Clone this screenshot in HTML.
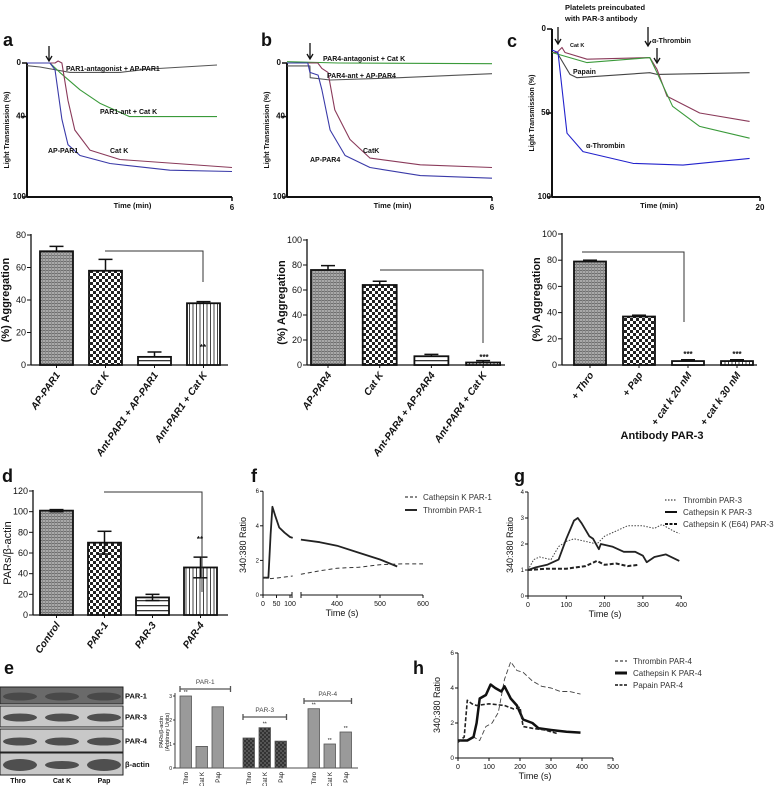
<!DOCTYPE html>
<html><head><meta charset="utf-8"><style>
html,body{margin:0;padding:0;background:#fff;}
svg{display:block;font-family:"Liberation Sans",sans-serif;}
</style></head><body>
<svg id="fig" width="779" height="786" viewBox="0 0 779 786" xmlns="http://www.w3.org/2000/svg">
<defs>
<pattern id="pDense" width="3" height="3" patternUnits="userSpaceOnUse"><rect width="3" height="3" fill="#a9a9a9"/><rect width="3" height="1" fill="#6f6f6f"/><rect x="0" width="1" height="3" fill="#8a8a8a"/></pattern>
<pattern id="pCheck" width="6" height="6" patternUnits="userSpaceOnUse"><rect width="6" height="6" fill="#fff"/><rect width="3" height="3" fill="#222"/><rect x="3" y="3" width="3" height="3" fill="#222"/></pattern>
<pattern id="pH" width="4" height="5" patternUnits="userSpaceOnUse"><rect width="4" height="5" fill="#fff"/><rect y="0" width="4" height="1.3" fill="#333"/></pattern>
<pattern id="pV" width="3.5" height="4" patternUnits="userSpaceOnUse"><rect width="3.5" height="4" fill="#fff"/><rect width="1" height="4" fill="#444"/></pattern>
<pattern id="pDark" width="4" height="4" patternUnits="userSpaceOnUse"><rect width="4" height="4" fill="#555"/><rect width="2" height="2" fill="#333"/><rect x="2" y="2" width="2" height="2" fill="#333"/></pattern>
<linearGradient id="blot" x1="0" y1="0" x2="0" y2="1"><stop offset="0" stop-color="#b5b5b5"/><stop offset="0.5" stop-color="#444"/><stop offset="1" stop-color="#aaa"/></linearGradient>
</defs>
</svg>
<script>
// ---------- data ----------
// panel a traces (time min, transmission %)
const aAntT=[0,0.38,1.26,2.72,3.6,5.56];
const aAntV=[2,3,7,7,4.5,1.5];
const aGrnT=[0,0.67,0.96,1.55,2.13,3.0,5.56];
const aGrnV=[0,0,7,20,30,40,40];
const aCatT=[0,0.82,0.91,1.02,1.2,1.4,1.84,2.72,6];
const aCatV=[0,0,-1.5,0,28,50,65,72,78];
const aApT=[0,0.67,0.82,1.02,1.2,1.55,2.43,4.18,6];
const aApV=[0,0,5,42,61,69,75,80,81];
// panel b traces
const bGrnT=[0,1.5,6];
const bGrnV=[-1,0,0.5];
const bAntT=[0,0.67,0.68,1.26,3.3,6];
const bAntV=[2.2,2.2,11,12.7,11,8];
const bCatT=[0,0.9,1.02,1.2,1.4,1.84,2.43,3.9,6];
const bCatV=[0,0,4,7,35,57,71,76,78];
const bApT=[0,0.61,0.67,0.91,1.02,1.26,1.7,2.43,3.9,6];
const bApV=[0,0,7,9,20,50,69,78,84,86];
// panel c traces
const cThrT=[0,0.58,1.44,2.98,7.8,12.6,19];
const cThrV=[12.5,14,62,73,80,81,77];
const cPapT=[0,0.48,1.73,2.4,9.4,10.1,19];
const cPapV=[14,14,27,29,26,27,26];
const cCatT=[0,0.48,0.96,1.25,3.37,9.4,10.1,11.06,14.2,19];
const cCatV=[14,14,11,14,18,17,24,40,50,55];
const cGrnT=[0,3.37,9.4,10.1,11.6,14.2,19];
const cGrnV=[14,20,17,26,46,58,65];
// bar charts
const aCats=["AP-PAR1","Cat K","Ant-PAR1 + AP-PAR1","Ant-PAR1 + Cat K"];
const aVals=[70,58,5,38];
const aErrs=[3,7,3,1];
const aTicks=[0,20,40,60,80];
const bCats=["AP-PAR4","Cat K","Ant-PAR4 + AP-PAR4","Ant-PAR4 + Cat K"];
const bVals=[76,64,7,2];
const bErrs=[3.5,3,1.5,1.5];
const bTicks=[0,20,40,60,80,100];
const cCats=["+ Thro","+ Pap","+ cat k 20 nM","+ cat k 30 nM"];
const cVals=[79,37,3,3];
const cErrs=[1,1,1,1];
const cTicks=[0,20,40,60,80,100];
const dCats=["Control","PAR-1","PAR-3","PAR-4"];
const dVals=[101,70,17,46];
const dErrs=[1,11,3,10];
const dTicks=[0,20,40,60,80,100,120];
// e bars
const eGroups=["PAR-1","PAR-3","PAR-4"];
const eLanes=["Thro","Cat K","Pap"];
const eVals=[[3.0,0.9,2.55],[1.25,1.68,1.12],[2.47,1.0,1.5]];
const eTicks=[0,1,2,3];
// f
const fThrT1=[0,20,28,35,45,60,80,100,110];
const fThrV1=[1.0,1.0,3.5,5.1,4.6,3.9,3.6,3.35,3.3];
const fThrT2=[316,360,400,450,500,540];
const fThrV2=[3.2,3.05,2.85,2.45,2.05,1.65];
const fCatT1=[0,30,60,110];
const fCatV1=[1.0,0.95,1.0,1.1];
const fCatT2=[316,360,400,450,500,550,600];
const fCatV2=[1.2,1.4,1.55,1.6,1.75,1.8,1.8];
const fTicks1=[0,50,100];
const fTicks2=[400,500,600];
const fYTicks=[0,2,4,6];
// g
const gThrT=[0,15,30,60,80,100,120,150,180,200,230,260,300,330,350,380,395];
const gThrV=[1,1.4,1.5,1.4,1.9,2.1,2.2,2.1,2.0,2.3,2.5,2.7,2.7,2.6,2.75,2.5,2.4];
const gCatT=[0,20,50,80,100,120,130,140,160,170,185,190,220,250,280,300,310,330,360,395];
const gCatV=[1,1.1,1.2,1.4,2.2,2.9,3.0,2.8,2.3,2.2,1.8,2.0,1.9,1.7,1.7,1.55,1.3,1.5,1.6,1.35];
const gE64T=[0,50,100,150,180,200,230,260,290];
const gE64V=[1,1.05,1.05,1.15,1.35,1.2,1.25,1.15,1.2];
const gXTicks=[0,100,200,300,400];
const gYTicks=[0,1,2,3,4];
// h
const hThrT=[0,30,50,70,90,110,130,150,170,190,210,240,270,300,330,360,395];
const hThrV=[1,1.0,1.2,1.0,1.8,2.0,2.6,4.5,5.5,5.0,4.9,4.4,4.1,4.0,3.8,3.8,3.65];
const hCatT=[0,30,50,60,70,90,105,120,140,150,170,190,210,240,260,300,350,395];
const hCatV=[1.0,1.0,1.2,2.0,3.4,3.6,4.2,4.0,3.8,4.1,3.4,3.0,2.2,2.0,1.7,1.6,1.5,1.45];
const hPapT=[0,20,30,45,60,100,150,180,200,210,240,280,320];
const hPapV=[0.9,1.2,3.3,3.1,3.0,3.1,3.0,2.8,2.9,1.8,1.7,1.6,1.4];
const hXTicks=[0,100,200,300,400,500];
const hYTicks=[0,2,4,6];

// ---------- helpers ----------
const svg=document.getElementById('fig');
const NS='http://www.w3.org/2000/svg';
function mk(tag,attrs,parent){const e=document.createElementNS(NS,tag);for(const k in attrs)e.setAttribute(k,attrs[k]);(parent||svg).appendChild(e);return e;}
function txt(s,x,y,size,opts){opts=opts||{};const e=mk('text',{x:x,y:y,'font-size':size,'font-weight':opts.w||'bold','text-anchor':opts.a||'start',fill:opts.fill||'#111'},opts.p);if(opts.it)e.setAttribute('font-style','italic');if(opts.rot!==undefined)e.setAttribute('transform','rotate('+opts.rot+' '+x+' '+y+')');e.textContent=s;return e;}
function ln(x1,y1,x2,y2,w,p){return mk('line',{x1:x1,y1:y1,x2:x2,y2:y2,stroke:'#111','stroke-width':w||1},p);}
function pathFrom(T,V,xf,yf,stroke,w,dash,p){let d='';for(let i=0;i<T.length;i++){d+=(i?'L':'M')+xf(T[i]).toFixed(1)+' '+yf(V[i]).toFixed(1);}const e=mk('path',{d:d,fill:'none',stroke:stroke,'stroke-width':w,'stroke-linejoin':'round'},p);if(dash)e.setAttribute('stroke-dasharray',dash);return e;}
function arrow(x,y1,y2,p){ln(x,y1,x,y2-1,1.3,p);const h=mk('path',{d:'M'+(x-3)+' '+(y2-5)+'L'+x+' '+y2+'L'+(x+3)+' '+(y2-5),fill:'none',stroke:'#111','stroke-width':1.3},p);return h;}
function group(name){const g=mk('g',{});return g;}

// ---------- kinetic trace panels ----------
function tracePanel(cfg){
  const g=group(cfg.name);
  const xf=t=>cfg.x0+t*(cfg.x1-cfg.x0)/cfg.tmax;
  const yf=v=>cfg.y0+v*(cfg.y1-cfg.y0)/100;
  const lab=txt(cfg.letter,cfg.lx,cfg.ly,18,{p:g});
  
  
  const ya=ln(cfg.x0,cfg.y0,cfg.x0,cfg.y1,2,g);
  
  
  const xa=ln(cfg.x0,cfg.y1,cfg.x1,cfg.y1,2,g);
  
  
  ln(cfg.x0-5,cfg.y0,cfg.x0,cfg.y0,1.5,g);ln(cfg.x0-5,yf(cfg.mid),cfg.x0,yf(cfg.mid),1.5,g);ln(cfg.x0-5,cfg.y1,cfg.x0,cfg.y1,1.5,g);
  ln(cfg.x1,cfg.y1,cfg.x1,cfg.y1+4,1.5,g);
  txt('0',cfg.x0-6,cfg.y0+2,8,{a:'end',p:g});
  txt(String(cfg.mid),cfg.x0-2,yf(cfg.mid)+2,8,{a:'end',p:g});
  txt('100',cfg.x0-1,cfg.y1+2,8,{a:'end',p:g});
  txt(String(cfg.tmax),cfg.x1,cfg.y1+13,8,{a:'middle',p:g});
  const xt=txt('Time (min)',(cfg.x0+cfg.x1)/2+3,cfg.y1+11,7.5,{a:'middle',p:g});
  
  
  const yt=txt('Light Transmission (%)',cfg.x0-18,(cfg.y0+cfg.y1)/2,7,{a:'middle',rot:-90,p:g});
  
  
  cfg.series.forEach(s=>{const p=pathFrom(s.t,s.v,xf,yf,s.c,1.1,null,g);
    
    });
  cfg.labels.forEach(l=>{const t=txt(l[0],l[1],l[2],l[3]||7,{p:g});
    
    });
  cfg.arrows.forEach(a=>{const ar=arrow(a[0],a[1],a[2],g);
    
    });
}
tracePanel({name:'panel-a-traces',letter:'a',lx:3,ly:46,x0:27,x1:232,y0:63,y1:197,tmax:6,mid:40,
  series:[{t:aAntT,v:aAntV,c:'#555',n:'par1-antagonist'},{t:aGrnT,v:aGrnV,c:'#3a9a3a',n:'par1-ant-catk'},{t:aCatT,v:aCatV,c:'#8a3a5a',n:'catk'},{t:aApT,v:aApV,c:'#3a3aa8',n:'ap-par1'}],
  labels:[['PAR1-antagonist + AP-PAR1',66,71],['PAR1-ant + Cat K',100,114],['AP-PAR1',48,153],['Cat K',110,153]],
  arrows:[[49,46,61]]});
tracePanel({name:'panel-b-traces',letter:'b',lx:261,ly:46,x0:287,x1:492,y0:63,y1:197,tmax:6,mid:40,
  series:[{t:bGrnT,v:bGrnV,c:'#3a9a3a',n:'par4-antagonist-catk'},{t:bAntT,v:bAntV,c:'#555',n:'par4-ant-ap-par4'},{t:bCatT,v:bCatV,c:'#8a3a5a',n:'catk'},{t:bApT,v:bApV,c:'#3a3aa8',n:'ap-par4'}],
  labels:[['PAR4-antagonist + Cat K',323,61],['PAR4-ant + AP-PAR4',327,78],['AP-PAR4',310,162],['CatK',363,153]],
  arrows:[[310,43,59]]});
tracePanel({name:'panel-c-traces',letter:'c',lx:507,ly:47,x0:552,x1:760,y0:29,y1:197,tmax:20,mid:50,
  series:[{t:cPapT,v:cPapV,c:'#444',n:'papain'},{t:cCatT,v:cCatV,c:'#8a3a5a',n:'catk'},{t:cGrnT,v:cGrnV,c:'#3a9a3a',n:'green'},{t:cThrT,v:cThrV,c:'#2222cc',n:'alpha-thrombin'}],
  labels:[['Cat K',570,47,5.5],['Papain',573,74],['α-Thrombin',652,43],['α-Thrombin',586,148]],
  arrows:[[558,27,44],[648,27,46],[657,48,63]]});
{const t=txt('Platelets preincubated',565,10,7.5);


const t2=txt('with  PAR-3 antibody',565,21,7.5);

}

// ---------- bar charts ----------
const pats=['url(#pDense)','url(#pCheck)','url(#pH)','url(#pV)'];
function barChart(cfg){
  const g=group(cfg.name);
  const yf=v=>cfg.y0-v*(cfg.y0-cfg.yTop)/cfg.vmax;
  const ya=ln(cfg.ax,yf(cfg.ticks[cfg.ticks.length-1])-1,cfg.ax,cfg.y0,1.3,g);
  
  
  const xa=ln(cfg.ax,cfg.y0,cfg.xEnd,cfg.y0,1.3,g);
  
  
  cfg.ticks.forEach(v=>{ln(cfg.ax-4,yf(v),cfg.ax,yf(v),1,g);
    const t=txt(String(v),cfg.ax-5,yf(v)+3,9,{a:'end',w:'normal',p:g});
    
    });
  const yt=txt(cfg.ytitle,cfg.ax-22,(cfg.y0+cfg.yTop)/2,11,{a:'middle',rot:-90,p:g,w:cfg.ytw||'bold'});
  
  
  cfg.cats.forEach((c,i)=>{
    const x=cfg.start+i*cfg.step, v=cfg.vals[i], e=cfg.errs[i], cx=x+cfg.w/2;
    const r=mk('rect',{x:x,y:yf(v),width:cfg.w,height:cfg.y0-yf(v),fill:pats[i],stroke:'#111','stroke-width':1.8},g);
    
    
    ln(cx,yf(v),cx,yf(v+e),1.5,g);ln(cx-7,yf(v+e),cx+7,yf(v+e),1.5,g);
    if(cfg.lowerErr){ln(cx,yf(v),cx,yf(v-e),1.5,g);ln(cx-7,yf(v-e),cx+7,yf(v-e),1.5,g);}
    ln(cx,cfg.y0,cx,cfg.y0+3,1,g);
    const t=txt(c,cx+4,cfg.y0+10,10,{a:'end',rot:-55,it:true,p:g});
    
    
  });
  const b=cfg.bracket;
  const bl=mk('path',{d:'M'+b[0]+' '+b[2]+'L'+b[1]+' '+b[2]+'L'+b[1]+' '+b[3],fill:'none',stroke:'#333','stroke-width':1},g);
  
  
  cfg.stars.forEach(s=>{const t=txt(s[0],s[1],s[2],8,{a:'middle',p:g});
    
    });
}
barChart({name:'panel-a-bars',ax:31,xEnd:228,y0:365,yTop:235,vmax:80,ticks:aTicks,cats:aCats,vals:aVals,errs:aErrs,start:40,step:49,w:33,ytitle:'(%) Aggregation',bracket:[105,203,251,282],stars:[['**',203,350]]});
barChart({name:'panel-b-bars',ax:307,xEnd:505,y0:365,yTop:240,vmax:100,ticks:bTicks,cats:bCats,vals:bVals,errs:bErrs,start:311,step:51.7,w:34,ytitle:'(%) Aggregation',bracket:[380,483,270,343],stars:[['***',484,360]]});
barChart({name:'panel-c-bars',ax:562,xEnd:757,y0:365,yTop:234,vmax:100,ticks:cTicks,cats:cCats,vals:cVals,errs:cErrs,start:574,step:49,w:32,ytitle:'(%) Aggregation',bracket:[582,684,252,322],stars:[['***',688,357],['***',737,357]]});
{const t=txt('Antibody PAR-3',662,439,11,{a:'middle'});

}
barChart({name:'panel-d-bars',ax:33,xEnd:228,y0:615,yTop:491,vmax:120,ticks:dTicks,cats:dCats,vals:dVals,errs:dErrs,lowerErr:true,start:40,step:48,w:33,ytitle:'PARs/β-actin',ytw:'normal',bracket:[104,202,492,592],stars:[['**',200,542]]});
{const t=txt('d',2,482,18);

}

// ---------- panel e ----------
{
const g=group('panel-e');
const L=txt('e',4,674,18,{p:g});


const rows=[['PAR-1',687,17],['PAR-3',706,21],['PAR-4',729,23],['β-actin',753,22]];
rows.forEach(r=>{
  const bg=mk('rect',{x:0,y:r[1],width:123,height:r[2],fill:r[0]==='PAR-1'?'#6a6a6a':'#c8c8c8',stroke:'#222','stroke-width':1},g);
  
  
  [20,62,104].forEach((cx,i)=>{const band=mk('ellipse',{cx:cx,cy:r[1]+r[2]/2+1,rx:17,ry:r[0]==='β-actin'?(i===1?4:6):4,fill:r[0]==='PAR-1'?'#333':'#3a3a3a',opacity:r[0]==='PAR-1'?0.6:0.85},g);
    
    });
  const t=txt(r[0],125,r[1]+r[2]/2+3,7.5,{p:g});
  
  
});
[['Thro',18],['Cat K',62],['Pap',104]].forEach(l=>{const t=txt(l[0],l[1],783,7,{a:'middle',p:g});
  
  });
const ax=175,y0=768,yTop=696;
const yf=v=>y0-v*(y0-yTop)/3;
const ya=ln(ax,yTop-3,ax,y0,0.8,g);


const xa=ln(ax,y0,358,y0,0.8,g);


eTicks.forEach(v=>{ln(ax-2,yf(v),ax,yf(v),0.8,g);
  const t=txt(String(v),ax-3,yf(v)+2,5,{a:'end',w:'normal',p:g});
  
  });
const yt=txt('PARs/β-actin',ax-12,732,5.5,{a:'middle',rot:-90,w:'normal',p:g});


const yt2=txt('(Arbitrary Units)',ax-6,732,5.5,{a:'middle',rot:-90,w:'normal',p:g});


const gStart=[180,243,308], bw=11.5, bstep=16;
const bracketY=[689,717,701];
eGroups.forEach((gn,gi)=>{
  eLanes.forEach((ln_,li)=>{
    const x=gStart[gi]+li*bstep, v=eVals[gi][li];
    const r=mk('rect',{x:x,y:yf(v),width:bw,height:y0-yf(v),fill:gi===1?'url(#pDark)':'#9a9a9a',stroke:'#555','stroke-width':0.8},g);
    
    
    const t=txt(ln_,x+bw/2+2,y0+4,6,{a:'end',rot:-90,w:'normal',p:g});
    
    
    if(!(gi===0&&li>0)&&!(gi===1&&li!==1)){const s=txt('**',x+bw/2,yf(v)-2,5,{a:'middle',w:'normal',p:g});
      
      }
  });
  const x1=gStart[gi]-(gi===2?4:0), x2=gStart[gi]+2*bstep+bw+(gi===0?7:0);
  const br=mk('path',{d:'M'+x1+' '+(bracketY[gi]-3)+'V'+(bracketY[gi]+3)+'M'+x1+' '+bracketY[gi]+'H'+x2+'M'+x2+' '+(bracketY[gi]-3)+'V'+(bracketY[gi]+3),stroke:'#555','stroke-width':1.3,fill:'none'},g);
  
  
  const t=txt(gn,(x1+x2)/2,bracketY[gi]-5,6.5,{a:'middle',w:'normal',fill:'#444',p:g});
  
  
});
}

// ---------- line charts f, g, h ----------
function legend(g,x,y,label,w,dash){const l=ln(x,y,x+12,y,w,g);if(dash)l.setAttribute('stroke-dasharray',dash);
  
  
  const t=txt(label,x+18,y+3,8,{w:'normal',fill:'#333',p:g});
  
  }
{
const g=group('panel-f');
const L=txt('f',251,482,18,{p:g});


const y0=595,yf=v=>y0-v*17.3;
const x1=t=>263+t*0.27, x2=t=>337+(t-400)*0.43;
const ya=ln(263,yf(6),263,y0,1,g);


const xa1=ln(263,y0,292,y0,1,g);


const xa2=ln(301,y0,x2(600),y0,1,g);


ln(292,y0-3,292,y0+3,1,g);ln(301,y0-3,301,y0+3,1,g);
fYTicks.forEach(v=>{ln(260,yf(v),263,yf(v),1,g);const t=txt(String(v),259,yf(v)+2,6,{a:'end',w:'normal',p:g});
  
  });
fTicks1.forEach(v=>{ln(x1(v),y0,x1(v),y0+3,1,g);const t=txt(String(v),x1(v),y0+11,7,{a:'middle',w:'normal',p:g});
  
  });
fTicks2.forEach(v=>{ln(x2(v),y0,x2(v),y0+3,1,g);const t=txt(String(v),x2(v),y0+11,7,{a:'middle',w:'normal',p:g});
  
  });
const xt=txt('Time (s)',342,616,9,{a:'middle',w:'normal',p:g});


const yt=txt('340:380 Ratio',246,545,9,{a:'middle',rot:-90,w:'normal',p:g});


const s1=pathFrom(fThrT1,fThrV1,x1,yf,'#222',1.8,null,g);


const s2=pathFrom(fThrT2,fThrV2,x2,yf,'#222',1.8,null,g);


const s3=pathFrom(fCatT1,fCatV1,x1,yf,'#333',1,'4,3',g);


const s4=pathFrom(fCatT2,fCatV2,x2,yf,'#333',1,'4,3',g);


legend(g,405,497,'Cathepsin K PAR-1',1,'3,2');
legend(g,405,510,'Thrombin PAR-1',1.8,null);
}
{
const g=group('panel-g');
const L=txt('g',514,482,18,{p:g});


const y0=596,yf=v=>y0-v*26,xf=t=>528+t*0.383;
const ya=ln(528,yf(4),528,y0,1,g);


const xa=ln(528,y0,xf(400),y0,1,g);


gYTicks.forEach(v=>{ln(525,yf(v),528,yf(v),1,g);const t=txt(String(v),524,yf(v)+2,6,{a:'end',w:'normal',p:g});
  
  });
gXTicks.forEach(v=>{ln(xf(v),y0,xf(v),y0+3,1,g);const t=txt(String(v),xf(v),y0+11,7,{a:'middle',w:'normal',p:g});
  
  });
const xt=txt('Time (s)',605,617,9,{a:'middle',w:'normal',p:g});


const yt=txt('340:380 Ratio',513,545,9,{a:'middle',rot:-90,w:'normal',p:g});


const s1=pathFrom(gThrT,gThrV,xf,yf,'#444',1,'1.5,1.5',g);


const s2=pathFrom(gCatT,gCatV,xf,yf,'#222',1.8,null,g);


const s3=pathFrom(gE64T,gE64V,xf,yf,'#222',2,'4,2',g);


legend(g,665,500,'Thrombin PAR-3',1,'1.5,1.5');
legend(g,665,512,'Cathepsin K PAR-3',2,null);
legend(g,665,524,'Cathepsin K  (E64) PAR-3',2,'3,1.5');
}
{
const g=group('panel-h');
const L=txt('h',413,674,18,{p:g});


const y0=758,yf=v=>y0-v*17.5,xf=t=>458+t*0.31;
const ya=ln(458,yf(6),458,y0,1,g);


const xa=ln(458,y0,xf(500),y0,1,g);


hYTicks.forEach(v=>{ln(455,yf(v),458,yf(v),1,g);const t=txt(String(v),454,yf(v)+2,6.5,{a:'end',w:'normal',p:g});
  
  });
hXTicks.forEach(v=>{ln(xf(v),y0,xf(v),y0+3,1,g);const t=txt(String(v),xf(v),y0+11,7,{a:'middle',w:'normal',p:g});
  
  });
const xt=txt('Time (s)',535,779,9,{a:'middle',w:'normal',p:g});


const yt=txt('340:380 Ratio',440,705,9,{a:'middle',rot:-90,w:'normal',p:g});


const s1=pathFrom(hThrT,hThrV,xf,yf,'#444',0.9,'5,2.5',g);


const s2=pathFrom(hCatT,hCatV,xf,yf,'#111',2.5,null,g);


const s3=pathFrom(hPapT,hPapV,xf,yf,'#222',1.6,'4,2',g);


legend(g,615,661,'Thrombin PAR-4',1,'3,2');
legend(g,615,673,'Cathepsin K  PAR-4',3,null);
legend(g,615,685,'Papain PAR-4',1.6,'3,1.5');
}
</script>
</body></html>
